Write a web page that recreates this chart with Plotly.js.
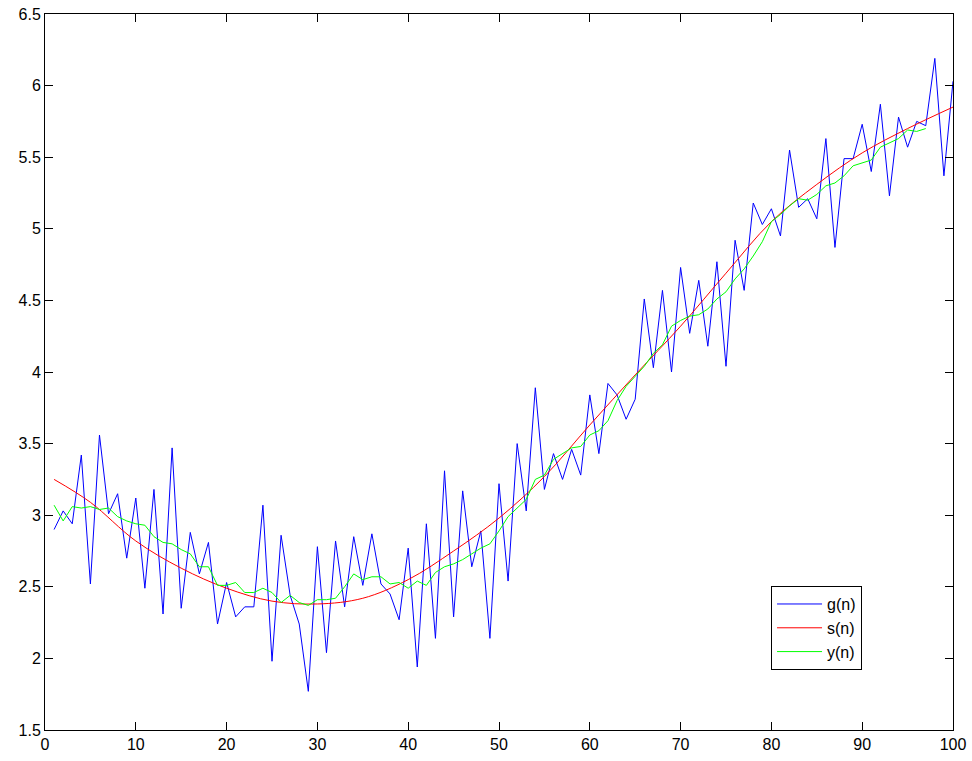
<!DOCTYPE html>
<html>
<head>
<meta charset="utf-8">
<script src="https://cdn.plot.ly/plotly-3.0.1.min.js"></script>
<style>html,body{margin:0;padding:0;background:#fff;}#plot{width:972px;height:761px;}</style>
</head>
<body>
<div id="plot"></div>
<script>
// g(n), n = 1..100
const gVals = [2.90,3.03,2.94,3.42,2.52,3.56,3.01,3.15,2.70,3.12,
  2.49,3.18,2.31,3.47,2.35,2.88,2.59,2.81,2.24,2.53,
  2.29,2.36,2.36,3.07,1.98,2.86,2.44,2.24,1.77,2.78,
  2.04,2.82,2.36,2.85,2.51,2.87,2.52,2.45,2.27,2.77,
  1.94,2.94,2.14,3.31,2.29,3.17,2.64,2.89,2.14,3.22,
  2.54,3.50,3.03,3.89,3.18,3.43,3.25,3.46,3.28,3.84,
  3.43,3.92,3.84,3.67,3.81,4.51,4.03,4.57,4.00,4.73,
  4.27,4.64,4.18,4.77,4.04,4.92,4.57,5.18,5.03,5.14,
  4.95,5.55,5.15,5.21,5.07,5.63,4.87,5.49,5.49,5.73,
  5.40,5.87,5.23,5.78,5.57,5.75,5.72,6.19,5.37,6.03];
// s(n), read at sample points
const sN = [1,5,10,15,20,25,30,35,40,45,50,55,60,65,70,75,80,85,90,95,100];
const sVals = [3.25,3.09,2.82,2.63,2.49,2.40,2.38,2.42,2.55,2.75,2.98,3.27,3.63,3.98,4.32,4.69,5.05,5.31,5.53,5.70,5.85];
// y(n), n = 1..97
const yVals = [3.07,2.96,3.06,3.05,3.06,3.04,3.05,2.99,2.96,2.94,
  2.93,2.85,2.81,2.80,2.76,2.73,2.64,2.64,2.51,2.51,
  2.53,2.46,2.46,2.49,2.46,2.39,2.44,2.39,2.37,2.41,
  2.41,2.42,2.50,2.59,2.55,2.57,2.57,2.52,2.53,2.49,
  2.54,2.51,2.60,2.64,2.66,2.69,2.73,2.77,2.80,2.89,
  2.99,3.05,3.11,3.25,3.28,3.39,3.43,3.47,3.48,3.56,
  3.59,3.66,3.80,3.90,3.97,4.04,4.13,4.19,4.32,4.36,
  4.39,4.40,4.44,4.51,4.56,4.65,4.72,4.81,4.91,5.05,
  5.10,5.16,5.21,5.20,5.24,5.30,5.32,5.37,5.44,5.46,
  5.48,5.57,5.60,5.63,5.69,5.68,5.70];
const legendNames = ['g(n)','s(n)','y(n)'];
const xTicks = [0,10,20,30,40,50,60,70,80,90,100];
const xTickText = ['0','10','20','30','40','50','60','70','80','90','100'];
const yTicks = [1.5,2,2.5,3,3.5,4,4.5,5,5.5,6,6.5];
const yTickText = ['1.5','2','2.5','3','3.5','4','4.5','5','5.5','6','6.5'];

const gN = gVals.map((_, i) => i + 1);
const yN = yVals.map((_, i) => i + 1);

const traces = [
  {x: gN, y: gVals, type: 'scatter', mode: 'lines', name: legendNames[0], line: {color: '#0000ff', width: 1}},
  {x: sN, y: sVals, type: 'scatter', mode: 'lines', name: legendNames[1], line: {color: '#ff0000', width: 1, shape: 'spline', smoothing: 1}},
  {x: yN, y: yVals, type: 'scatter', mode: 'lines', name: legendNames[2], line: {color: '#00ff00', width: 1}}
];

const axisCommon = {
  showgrid: false, zeroline: false, showline: true, linecolor: '#000', linewidth: 1,
  mirror: 'allticks', ticks: 'inside', ticklen: 8, tickcolor: '#000', tickwidth: 1,
  tickfont: {family: 'Liberation Sans, Arial, sans-serif', size: 16, color: '#000'}
};

const layout = {
  width: 972, height: 761,
  margin: {l: 45, r: 19, t: 14, b: 31},
  paper_bgcolor: '#fff', plot_bgcolor: '#fff',
  xaxis: Object.assign({}, axisCommon, {range: [0, 100], tickmode: 'array', tickvals: xTicks, ticktext: xTickText}),
  yaxis: Object.assign({}, axisCommon, {range: [1.5, 6.5], tickmode: 'array', tickvals: yTicks, ticktext: yTickText}),
  showlegend: true,
  legend: {
    x: 0.7996, y: 0.201, xanchor: 'left', yanchor: 'top',
    bgcolor: '#fff', bordercolor: '#000', borderwidth: 1,
    itemwidth: 45,
    font: {family: 'Liberation Sans, Arial, sans-serif', size: 16, color: '#000'},
    tracegroupgap: 0
  }
};

Plotly.newPlot('plot', traces, layout, {displayModeBar: false, staticPlot: true});
</script>
</body>
</html>
